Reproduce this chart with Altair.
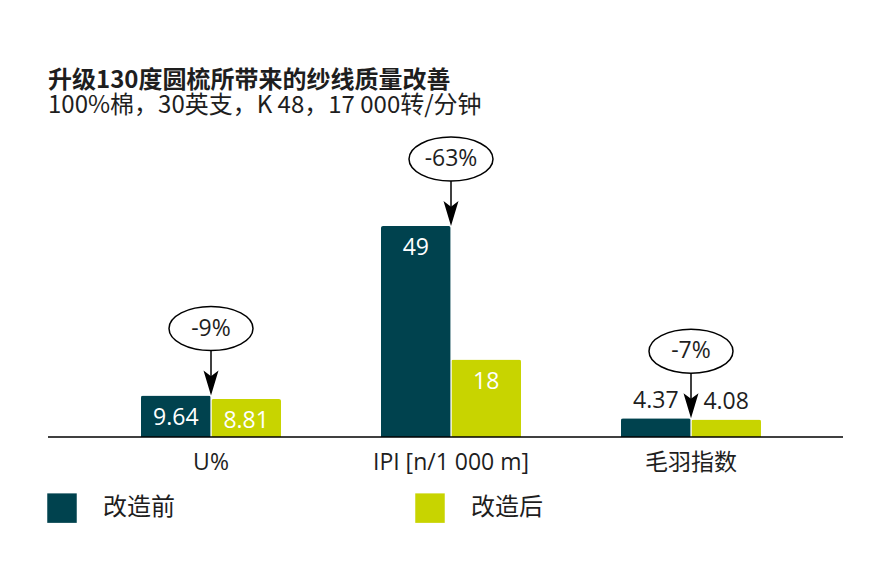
import altair as alt
import pandas as pd

# Yarn quality before / after the 130-degree comb upgrade
categories = ["U%", "IPI [n/1 000 m]", "毛羽指数"]
series = ["改造前", "改造后"]
before_values = [9.64, 49, 4.37]
after_values = [8.81, 18, 4.08]

DARK = "#00424E"
LIME = "#C8D400"
INK = "#1E1E1E"
CJK = "Noto Sans CJK SC"
NUM = "Open Sans, Noto Sans CJK SC"

rows = []
for cat, b, a in zip(categories, before_values, after_values):
    rows.append({"category": cat, "series": series[0], "value": b, "label": f"{b:g}"})
    rows.append({"category": cat, "series": series[1], "value": a, "label": f"{a:g}"})
bars_df = pd.DataFrame(rows)

notes_df = pd.DataFrame({
    "category": categories,
    "before": before_values,
    "change": [f"{round((a - b) / b * 100):d}%" for b, a in zip(before_values, after_values)],
})

# unit-square symbol paths: an ellipse and a down-pointing arrowhead
ELLIPSE = ("M -1 0 C -1 -0.29 -0.5523 -0.524 0 -0.524 C 0.5523 -0.524 1 -0.29 1 0 "
           "C 1 0.29 0.5523 0.524 0 0.524 C -0.5523 0.524 -1 0.29 -1 0 Z")
ARROW = "M 0 1 L -0.6 -1 L 0 -0.55 L 0.6 -1 Z"

x_enc = alt.X(
    "category:N",
    sort=categories,
    scale=alt.Scale(paddingInner=100 / 240, paddingOuter=50 / 240),
    axis=alt.Axis(title=None, domain=False, ticks=False, labelAngle=0,
                  labelFontSize=23, labelFont=NUM, labelColor=INK, labelPadding=14),
)
y_scale = alt.Scale(domain=[0, 69])
x_off = alt.XOffset("series:N", sort=series, scale=alt.Scale(domain=series, paddingInner=0.01))

bars = alt.Chart(bars_df).mark_bar(cornerRadiusTopLeft=2, cornerRadiusTopRight=2).encode(
    x=x_enc,
    xOffset=x_off,
    y=alt.Y("value:Q", scale=y_scale, axis=None),
    color=alt.Color(
        "series:N",
        sort=series,
        scale=alt.Scale(domain=series, range=[DARK, LIME]),
        legend=alt.Legend(
            title=None, orient="none", legendX=-44, legendY=353, direction="horizontal",
            symbolType="square", symbolSize=870, symbolStrokeWidth=0, symbolOpacity=1,
            labelFontSize=24, labelFont=CJK, labelColor=INK, labelOffset=26,
            columnPadding=240, padding=0,
        ),
    ),
)

inside = alt.Chart(bars_df).transform_filter("datum.value >= 8").mark_text(
    baseline="middle", dy=22, fontSize=23, font=NUM, color="white"
).encode(x=x_enc, xOffset=x_off, y=alt.Y("value:Q", scale=y_scale), text="label:N")

outside = alt.Chart(bars_df).transform_filter("datum.value < 8").mark_text(
    baseline="middle", dy=-17, fontSize=23, font=NUM, color=INK
).encode(x=x_enc, xOffset=x_off, y=alt.Y("value:Q", scale=y_scale), text="label:N")

ellipses = alt.Chart(notes_df).mark_point(
    shape=ELLIPSE, size=7056, filled=False, color="black", strokeWidth=1.5, opacity=1, yOffset=-67
).encode(x=x_enc, y=alt.Y("before:Q", scale=y_scale))

change_text = alt.Chart(notes_df).mark_text(
    baseline="middle", fontSize=23, font=NUM, color=INK, yOffset=-67
).encode(x=x_enc, y=alt.Y("before:Q", scale=y_scale), text="change:N")

shafts = alt.Chart(notes_df).mark_rule(
    color="black", strokeWidth=1.5, yOffset=-45, y2Offset=-16
).encode(x=x_enc, y=alt.Y("before:Q", scale=y_scale), y2="before:Q")

heads = alt.Chart(notes_df).mark_point(
    shape=ARROW, size=625, filled=True, color="black", opacity=1, strokeWidth=0, yOffset=-12.5
).encode(x=x_enc, y=alt.Y("before:Q", scale=y_scale))

baseline = alt.Chart(pd.DataFrame({"zero": [0]})).mark_rule(color="black", strokeWidth=1.5).encode(
    x=alt.value(-43), x2=alt.value(752), y=alt.Y("zero:Q", scale=y_scale)
)

chart = alt.layer(bars, inside, outside, baseline, shafts, heads, ellipses, change_text).properties(
    width=720,
    height=297,
    title=alt.TitleParams(
        text="升级130度圆梳所带来的纱线质量改善",
        subtitle="100%棉，30英支，K 48，17 000转/分钟",
        anchor="start", frame="group", dx=-43, offset=16,
        font=CJK, fontSize=24, fontWeight="bold", color=INK,
        subtitleFont=CJK, subtitleFontSize=24, subtitleColor=INK, subtitlePadding=1,
    ),
    autosize=alt.AutoSizeParams(type="none"),
    padding={"left": 91, "top": 140, "right": 79, "bottom": 149},
).configure_view(stroke=None)

chart.save("out.html", embed_options={"renderer": "svg", "actions": False})
